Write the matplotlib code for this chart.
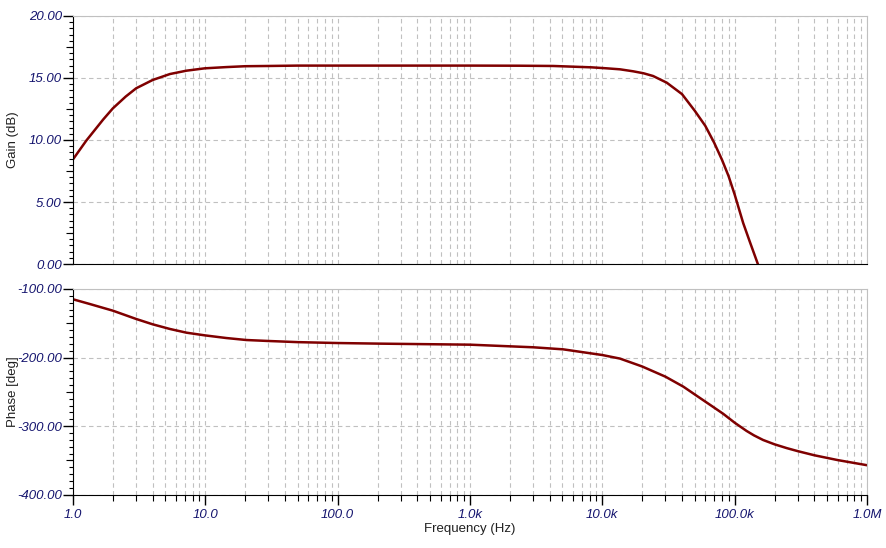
import matplotlib
matplotlib.use('Agg')
import matplotlib.pyplot as plt
from matplotlib.ticker import FixedLocator, LogLocator, NullFormatter, MultipleLocator, FuncFormatter

plt.rcParams['font.family'] = ['Liberation Sans', 'DejaVu Sans']

# Gain curve (Hz, dB)
gain_freq = [1.0, 1.26, 1.69, 2.0, 2.5, 3.0, 4.0, 5.4, 7.2, 9.9, 14.4, 20.0, 30.0, 50.0,
             100.0, 1e3, 2.37e3, 4.25e3, 8.28e3, 10.8e3, 13.6e3, 17.1e3, 20.5e3,
             24.2e3, 30.7e3, 40e3, 50e3, 60e3, 70e3, 80e3, 90e3, 100e3, 116e3,
             130e3, 149.7e3, 165e3]
gain_db = [8.44, 9.95, 11.65, 12.55, 13.5, 14.17, 14.84, 15.32, 15.59, 15.78, 15.88,
           15.95, 15.97, 16.0, 16.0, 16.0, 15.99, 15.97, 15.86, 15.78, 15.70, 15.54,
           15.38, 15.16, 14.62, 13.70, 12.35, 11.14, 9.78, 8.43, 7.08, 5.6, 3.3,
           1.81, 0.0, -1.9]

# Phase curve (Hz, deg)
phase_freq = [1.0, 1.34, 2.0, 3.0, 4.0, 5.4, 7.2, 9.9, 14.4, 20.4, 29.8, 50.0, 100.0,
              210.0, 1e3, 3e3, 5.06e3, 10e3, 13.6e3, 20e3, 30e3, 41e3, 51e3, 70e3,
              81.9e3, 100e3, 123e3, 140e3, 164e3, 200e3, 247e3, 300e3, 400e3, 600e3, 1e6]
phase_deg = [-115.0, -121.9, -131.6, -143.7, -151.5, -158.3, -163.7, -167.6, -171.5,
             -174.4, -175.8, -177.5, -178.8, -179.7, -181.2, -185.0, -188.0, -196.3,
             -201.5, -213.0, -227.9, -242.5, -255.0, -273.0, -282.0, -295.0, -307.0,
             -313.5, -320.2, -326.5, -332.0, -336.5, -342.5, -349.5, -357.0]

x_ticks = [1, 10, 100, 1e3, 1e4, 1e5, 1e6]
x_labels = ['1.0', '10.0', '100.0', '1.0k', '10.0k', '100.0k', '1.0M']

line_color = '#7f0000'
tick_color = '#14146e'
label_color = '#202020'
grid_kw = dict(color='#c0c0c0', linestyle=(0, (4, 3)), linewidth=0.8)

fig = plt.figure(figsize=(8.87, 5.48), dpi=100)
ax1 = fig.add_axes([73 / 887, 1 - 264 / 548, 794 / 887, 248 / 548])
ax2 = fig.add_axes([73 / 887, 1 - 494.7 / 548, 794 / 887, 205.7 / 548])


def fmt2(v, p):
    return f'{v:.2f}'


def style_axis(ax, major, minor, lo, hi):
    ax.set_xscale('log')
    ax.set_xlim(1, 1e6)
    ax.set_ylim(lo, hi)
    ax.xaxis.set_major_locator(FixedLocator(x_ticks))
    ax.xaxis.set_minor_locator(LogLocator(base=10, subs=range(2, 10), numticks=20))
    ax.xaxis.set_minor_formatter(NullFormatter())
    ax.yaxis.set_major_locator(MultipleLocator(major))
    ax.yaxis.set_minor_locator(MultipleLocator(minor))
    ax.yaxis.set_major_formatter(FuncFormatter(fmt2))
    ax.grid(True, which='major', axis='both', **grid_kw)
    ax.grid(True, which='minor', axis='x', **grid_kw)
    ax.set_axisbelow(True)
    ax.spines['top'].set_color('#c0c0c0')
    ax.spines['right'].set_color('#c0c0c0')
    ax.spines['left'].set_color('black')
    ax.spines['bottom'].set_color('black')
    ax.tick_params(axis='y', which='major', direction='out', length=7, width=1,
                   labelsize=9.5, labelcolor=tick_color, pad=1)
    ax.tick_params(axis='y', which='minor', direction='out', length=3, width=0.8)
    # medium ticks halfway between the major ones
    mid = ax.secondary_yaxis('left')
    mids = [lo + major / 2 + i * major for i in range(int(round((hi - lo) / major)))]
    mid.set_yticks(mids)
    mid.tick_params(axis='y', which='major', direction='out', length=5, width=0.8,
                    labelleft=False)
    mid.yaxis.set_minor_locator(FixedLocator([]))
    mid.spines['left'].set_visible(False)
    for lab in ax.get_yticklabels():
        lab.set_fontstyle('italic')


# Gain panel
ax1.plot(gain_freq, gain_db, color=line_color, linewidth=1.8)
style_axis(ax1, 5, 0.5, 0, 20)
ax1.tick_params(axis='x', which='both', length=0, labelbottom=False)
ax1.set_ylabel('Gain (dB)', fontsize=9.5, color=label_color)
ax1.yaxis.set_label_coords(-0.068, 0.5)

# Phase panel
ax2.plot(phase_freq, phase_deg, color=line_color, linewidth=1.8)
style_axis(ax2, 100, 10, -400, -100)
ax2.set_xticklabels(x_labels)
ax2.tick_params(axis='x', which='major', direction='out', length=7, width=1,
                labelsize=9.5, labelcolor=tick_color, pad=3)
ax2.tick_params(axis='x', which='minor', direction='out', length=4, width=0.8)
for lab in ax2.get_xticklabels() + ax2.get_yticklabels():
    lab.set_fontstyle('italic')
ax2.set_ylabel('Phase [deg]', fontsize=9.5, color=label_color)
ax2.yaxis.set_label_coords(-0.068, 0.5)
ax2.set_xlabel('Frequency (Hz)', fontsize=9.5, color=label_color, labelpad=2)

fig.savefig('out.png', dpi=100)
